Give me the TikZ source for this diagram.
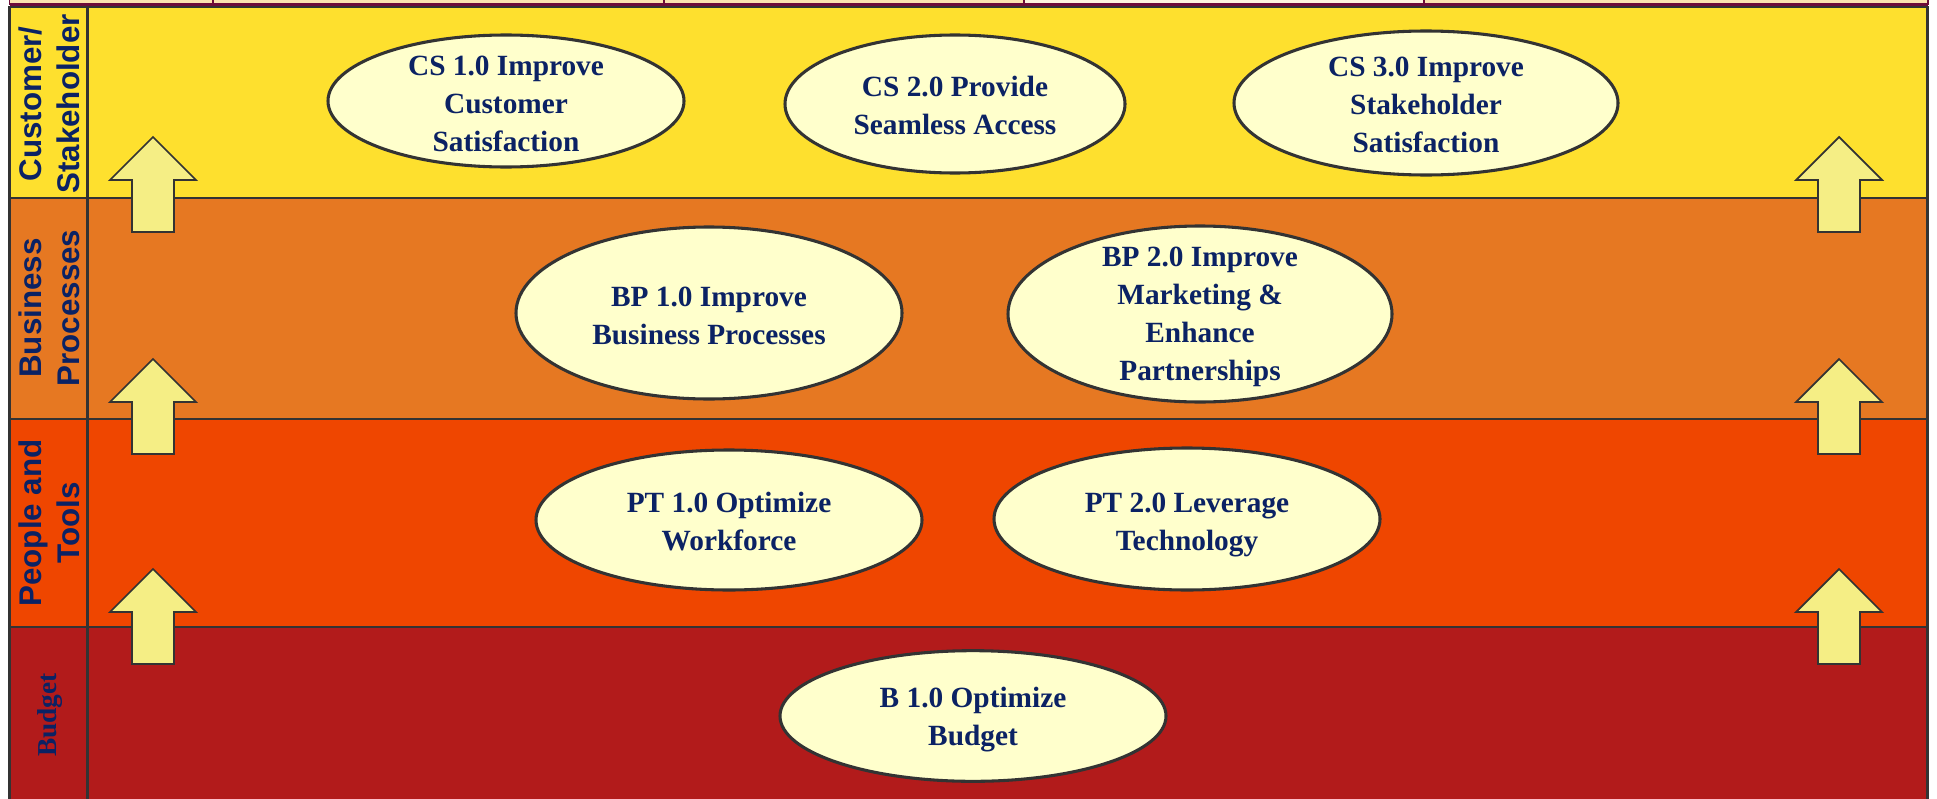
\documentclass[tikz,border=0pt]{standalone}
\usepackage{fontspec}
\setmainfont{Liberation Serif}
\setsansfont{Liberation Sans}
\usetikzlibrary{shapes.geometric}
\definecolor{bandY}{HTML}{FEE02E}
\definecolor{bandO}{HTML}{E67822}
\definecolor{bandR}{HTML}{EF4600}
\definecolor{bandB}{HTML}{B21B1B}
\definecolor{ovalfill}{HTML}{FFFFCC}
\definecolor{arrfill}{HTML}{F5EE85}
\definecolor{edgec}{HTML}{333333}
\definecolor{navy}{HTML}{0B2264}
\definecolor{maroonc}{HTML}{6E0C3A}
\definecolor{beige}{HTML}{FCE3B0}
\begin{document}
\begin{tikzpicture}[x=0.75pt,y=-0.75pt,
  band/.style={draw=edgec,line width=1.6pt},
  topbox/.style={draw=maroonc,fill=beige,line width=1.4pt},
  oval/.style={ellipse,draw=edgec,fill=ovalfill,line width=2.3pt,inner sep=0pt},
  otext/.style={text=navy,align=center,font=\fontsize{22}{28.5}\selectfont\bfseries},
  side/.style={text=navy,align=center,rotate=90,font=\sffamily\bfseries\fontsize{23.5}{28.5}\selectfont},
  uparr/.pic={\draw[draw=edgec,fill=arrfill,line width=1.3pt,line join=miter]
     (0,0) -- (43,43) -- (21,43) -- (21,95) -- (-21,95) -- (-21,43) -- (-43,43) -- cycle;}
]
\useasboundingbox (0,0) rectangle (1937,799);
\clip (0,0) rectangle (1937,799);

% top strip
\draw[topbox] (9.5,-10) rectangle (213,4);
\draw[topbox] (213,-10) rectangle (664,4);
\draw[topbox] (664,-10) rectangle (1024,4);
\draw[topbox,fill=beige!40,line width=2.2pt] (1024,-10) rectangle (1424,4);
\draw[topbox] (1424,-10) rectangle (1928,4);
\draw[maroonc,line width=2.6pt] (9.5,5) -- (1928,5);

% bands
\draw[band,fill=bandY] (87.5,7) rectangle (1927.5,198);
\draw[band,fill=bandO] (87.5,198) rectangle (1927.5,419);
\draw[band,fill=bandR] (87.5,419) rectangle (1927.5,627);
\draw[band,fill=bandB] (87.5,627) rectangle (1927.5,810);
\draw[band,fill=bandY,line width=2pt] (9.5,7) rectangle (87.5,198);
\draw[band,fill=bandO,line width=2pt] (9.5,198) rectangle (87.5,419);
\draw[band,fill=bandR,line width=2pt] (9.5,419) rectangle (87.5,627);
\draw[band,fill=bandB,line width=2pt] (9.5,627) rectangle (87.5,810);

% side labels
\node[side] (lcs) at (49,104) {Customer/\\Stakeholder};
\node[side] (lbp) at (49,308) {Business\\Processes};
\node[side] (lpt) at (49,523) {People and\\Tools};
\node[text=navy,rotate=90,font=\bfseries\fontsize{20.5}{24}\selectfont] (lb) at (50,715) {Budget};

% arrows
\pic at (153,137) {uparr};
\pic at (153,359) {uparr};
\pic at (153,569) {uparr};
\pic at (1839,137) {uparr};
\pic at (1839,359) {uparr};
\pic at (1839,569) {uparr};

% ovals
\node[oval,minimum width=267pt,minimum height=99pt] (cs1) at (506,101) {};
\node[oval,minimum width=255pt,minimum height=103.5pt] (cs2) at (955,104) {};
\node[oval,minimum width=288pt,minimum height=108pt] (cs3) at (1426,103) {};
\node[oval,minimum width=289.5pt,minimum height=129pt] (bp1) at (709,313) {};
\node[oval,minimum width=288pt,minimum height=132pt] (bp2) at (1200,314) {};
\node[oval,minimum width=289.5pt,minimum height=105pt] (pt1) at (729,520) {};
\node[oval,minimum width=289.5pt,minimum height=106.5pt] (pt2) at (1187,519) {};
\node[oval,minimum width=289.5pt,minimum height=98pt] (b1) at (973,716) {};

\node[otext] (tcs1) at ([yshift=-2pt]cs1.center) {CS 1.0 Improve\\Customer\\Satisfaction};
\node[otext] (tcs2) at ([yshift=-1pt]cs2.center) {CS 2.0 Provide\\Seamless Access};
\node[otext] (tcs3) at ([yshift=-1.5pt]cs3.center) {CS 3.0 Improve\\Stakeholder\\Satisfaction};
\node[otext] (tbp1) at ([yshift=-2pt]bp1.center) {BP 1.0 Improve\\Business Processes};
\node[otext] (tbp2) at ([yshift=-2pt]bp2.center) {BP 2.0 Improve\\Marketing \&\\Enhance\\Partnerships};
\node[otext] (tpt1) at ([yshift=-1.5pt]pt1.center) {PT 1.0 Optimize\\Workforce};
\node[otext] (tpt2) at ([yshift=-4.5pt]pt2.center) {PT 2.0 Leverage\\Technology};
\node[otext] (tb1) at ([yshift=-3pt]b1.center) {B 1.0 Optimize\\Budget};
\end{tikzpicture}
\end{document}
